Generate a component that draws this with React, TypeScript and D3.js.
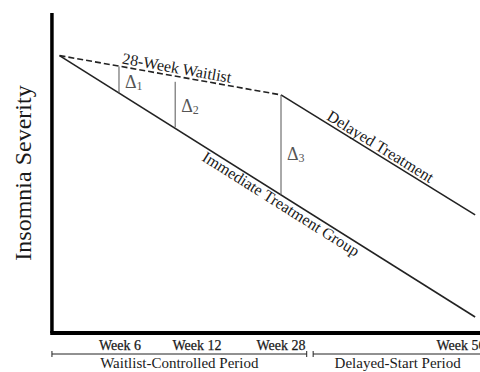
import React from 'react';
import * as d3 from 'd3';

const W = 480;
const H = 372;

// schematic timeline (weeks) used for the x axis
const timelineWeeks = [0, 6, 12, 28, 56];
const tickWeeks = [6, 12, 28, 56];
const tickLabels = ['Week 6', 'Week 12', 'Week 28', 'Week 56'];
const axisOriginWeek = -0.75;

// series (severity, arbitrary 0-100)
const waitlistWeeks = [0, 28];
const waitlistSeverity = [86.7, 74.4];
const immediateWeeks = [0, 58.2];
const immediateSeverity = [86.7, 5.0];
const delayedWeeks = [28, 58.2];
const delayedSeverity = [74.4, 36.9];

// differences
const deltaWeeks = [5.9, 10.3, 28];
const deltaTop = [83.3, 78.5, 74.4];
const deltaBottom = [74.9, 64.3, 43.1];
const deltaNames = ['1', '2', '3'];

// periods
const periodLabels = ['Waitlist-Controlled Period', 'Delayed-Start Period'];
const periodStart = [-0.75, 33];
const periodEnd = [32, 59.3];

const FONT = "'Liberation Serif', 'Times New Roman', serif";

export default function App() {
  const x = d3.scaleLinear().domain(timelineWeeks).range([59.5, 120, 197, 281, 461]);
  const y = d3.scaleLinear().domain([0, 100]).range([333, 13]);

  const line = d3.line<[number, number]>().x(d => x(d[0])).y(d => y(d[1]));
  const pts = (ws: number[], vs: number[]) => ws.map((w, i) => [w, vs[i]] as [number, number]);

  const waitPts = pts(waitlistWeeks, waitlistSeverity);
  const immPts = pts(immediateWeeks, immediateSeverity);
  const delPts = pts(delayedWeeks, delayedSeverity);

  const along = (p: [number, number][], t: number, offset: number, label: string, key: string) => {
    const x1 = x(p[0][0]), y1 = y(p[0][1]);
    const x2 = x(p[1][0]), y2 = y(p[1][1]);
    const px = x1 + t * (x2 - x1);
    const py = y1 + t * (y2 - y1);
    const ang = (Math.atan2(y2 - y1, x2 - x1) * 180) / Math.PI;
    return (
      <text key={key} transform={`translate(${px},${py}) rotate(${ang})`} y={offset}
        fontFamily={FONT} fontSize={16} fill="#1a1a1a">{label}</text>
    );
  };

  const ox = x(axisOriginWeek);
  const oy = y(0);
  const bracketY = 354;
  const deltaFrac = [0.8, 0.66, 0.65];

  return (
    <svg width={W} height={H} style={{ position: 'absolute', left: 0, top: 0, background: '#fff' }}>
      {/* axes */}
      <path d={`M${ox},${y(100)}V${oy}`} stroke="#000" strokeWidth={3.5} fill="none" />
      <path d={`M${ox - 1.75},${oy}H${W + 5}`} stroke="#000" strokeWidth={4} fill="none" />

      {/* y label */}
      <text transform={`translate(30.5,${(y(100) + oy) / 2 + 0}) rotate(-90)`} textAnchor="middle"
        fontFamily={FONT} fontSize={24} fill="#1a1a1a">Insomnia Severity</text>

      {/* series */}
      <path d={line(waitPts) || ''} stroke="#222" strokeWidth={1.6} strokeDasharray="6,3" fill="none" />
      <path d={line(immPts) || ''} stroke="#222" strokeWidth={1.6} fill="none" />
      <path d={line(delPts) || ''} stroke="#222" strokeWidth={1.6} fill="none" />

      {/* deltas */}
      {deltaWeeks.map((w, i) => {
        const xt = x(w);
        const yt = y(deltaTop[i]);
        const yb = y(deltaBottom[i]);
        return (
          <g key={'d' + i}>
            <path d={`M${xt},${yt}V${yb}`} stroke="#555" strokeWidth={1} fill="none" />
            <text x={xt + 6} y={yt + deltaFrac[i] * (yb - yt)} fontFamily={FONT} fontSize={18} fill="#555">
              Δ<tspan fontSize={12} dy={2}>{deltaNames[i]}</tspan>
            </text>
          </g>
        );
      })}

      {/* line labels */}
      {along(waitPts, 0.278, -3, '28-Week Waitlist', 'lw')}
      {along(delPts, 0.222, -3, 'Delayed Treatment', 'ld')}
      {along(immPts, 0.357, 13, 'Immediate Treatment Group', 'li')}

      {/* ticks */}
      {tickWeeks.map((w, i) => (
        <text key={'t' + i} x={x(w)} y={350} textAnchor="middle" fontFamily={FONT} fontSize={14}
          fill="#1a1a1a" stroke="#1a1a1a" strokeWidth={0.25}>
          {tickLabels[i]}
        </text>
      ))}

      {/* periods */}
      {periodLabels.map((lab, i) => {
        const a = x(periodStart[i]);
        const b = x(periodEnd[i]);
        return (
          <g key={'p' + i}>
            <path d={`M${a},${bracketY}H${b}M${a},${bracketY - 3}V${bracketY + 3}M${b},${bracketY - 3}V${bracketY + 3}`}
              stroke="#222" strokeWidth={1} fill="none" />
            <text x={(a + b) / 2} y={368} textAnchor="middle" fontFamily={FONT} fontSize={15} fill="#1a1a1a">{lab}</text>
          </g>
        );
      })}
    </svg>
  );
}
